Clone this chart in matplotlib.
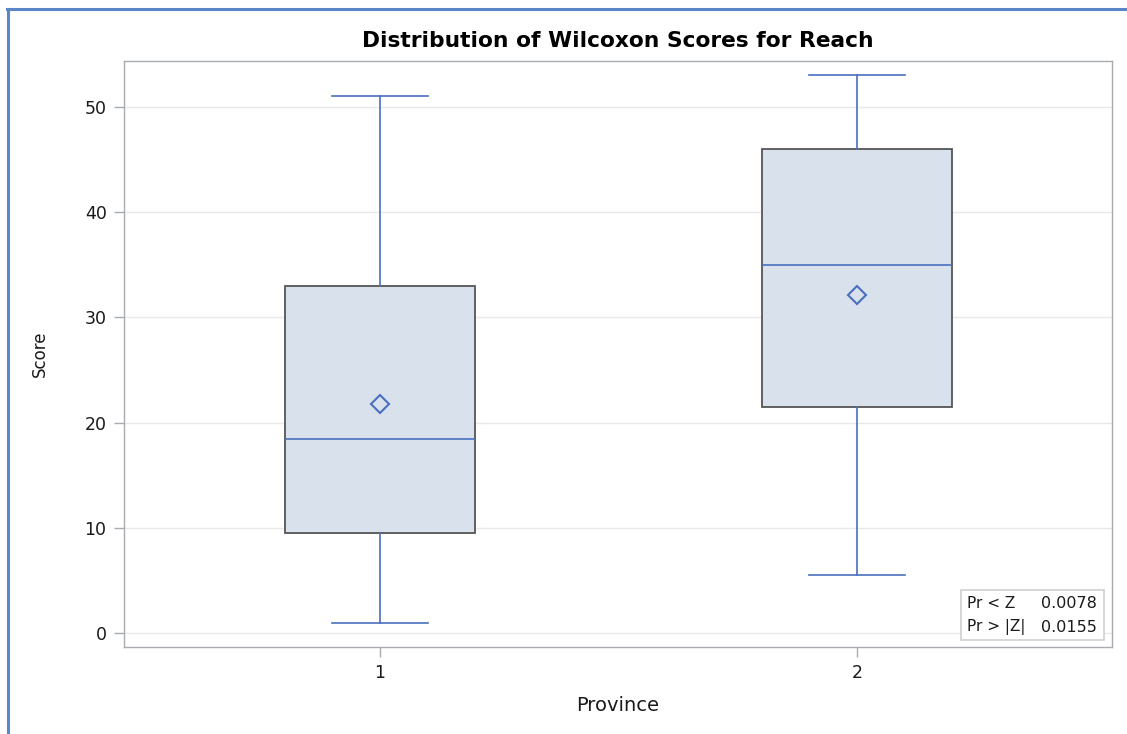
import matplotlib
matplotlib.use("Agg")
import matplotlib.pyplot as plt
from matplotlib.lines import Line2D
from matplotlib.patches import Rectangle

plt.rcParams['font.family'] = ['DejaVu Sans']

# Wilcoxon score summaries per province
provinces = ["1", "2"]
whisker_low = [1.0, 5.5]
q1 = [9.5, 21.5]
median = [18.5, 35.0]
q3 = [33.0, 46.0]
whisker_high = [51.0, 53.0]
mean = [21.8, 32.1]

test_labels = ["Pr < Z", "Pr > |Z|"]
test_values = ["0.0078", "0.0155"]

y_ticks = [0, 10, 20, 30, 40, 50]

box_blue = "#4a6fbf"
box_fill = "#d9e1ec"
box_edge = "#555555"
axis_gray = "#a8acb0"
text_color = "#1a1a1a"

fig = plt.figure(figsize=(11.27, 7.34), dpi=100)
ax = fig.add_axes([0.110, 0.1185, 0.8767, 0.7984])

stats = []
for i, name in enumerate(provinces):
    stats.append(dict(label=name, whislo=whisker_low[i], q1=q1[i], med=median[i],
                      q3=q3[i], whishi=whisker_high[i], mean=mean[i], fliers=[]))

positions = list(range(1, len(provinces) + 1))
ax.bxp(stats, positions=positions, widths=0.40, capwidths=0.20,
       showmeans=True, patch_artist=True, showfliers=False,
       boxprops=dict(facecolor=box_fill, edgecolor=box_edge, linewidth=1.3),
       whiskerprops=dict(color=box_blue, linewidth=1.2),
       capprops=dict(color=box_blue, linewidth=1.2),
       medianprops=dict(color=box_blue, linewidth=1.2),
       meanprops=dict(marker="D", markersize=9, markerfacecolor="none",
                      markeredgecolor=box_blue, markeredgewidth=1.5),
       zorder=3)

ax.set_xlim(0.463, 2.535)
ax.set_ylim(-1.3, 54.35)
ax.set_yticks(y_ticks)
ax.set_xticks(positions)
ax.set_xticklabels(provinces)

ax.yaxis.grid(True, color="#e8e8e8", linewidth=1.0, zorder=0)
ax.set_axisbelow(True)

for s in ax.spines.values():
    s.set_color(axis_gray)
    s.set_linewidth(1.0)

ax.tick_params(axis="both", direction="out", length=7.5, width=1.0,
               color=axis_gray, labelsize=12.5, labelcolor=text_color, pad=5)

ax.set_xlabel("Province", fontsize=14, color=text_color, labelpad=10)
ax.set_ylabel("Score", fontsize=12, color=text_color, labelpad=26)
ax.set_title("Distribution of Wilcoxon Scores for Reach", fontsize=15.7,
             fontweight="bold", color="#000000", pad=10)

# p-value inset box
ax.add_patch(Rectangle((0.847, 0.012), 0.145, 0.0855, transform=ax.transAxes,
                       facecolor="white", edgecolor="#d0d0d0", linewidth=1.2,
                       zorder=5))
row_y = [0.075, 0.034]
for lab, val, y in zip(test_labels, test_values, row_y):
    ax.text(0.853, y, lab, transform=ax.transAxes, fontsize=11,
            va="center", ha="left", color=text_color, zorder=6)
    ax.text(0.985, y, val, transform=ax.transAxes, fontsize=11.5,
            va="center", ha="right", color=text_color, zorder=6)

# window frame along the top and left edges
frame_color = "#5b87c8"
fig.add_artist(Line2D([0.0066, 1.0], [1 - 9.3 / 734, 1 - 9.3 / 734],
                      transform=fig.transFigure, color=frame_color, linewidth=2.2))
fig.add_artist(Line2D([8.3 / 1127, 8.3 / 1127], [0.0, 1 - 9.3 / 734],
                      transform=fig.transFigure, color=frame_color, linewidth=2.2))

fig.savefig("out.png", dpi=100)
